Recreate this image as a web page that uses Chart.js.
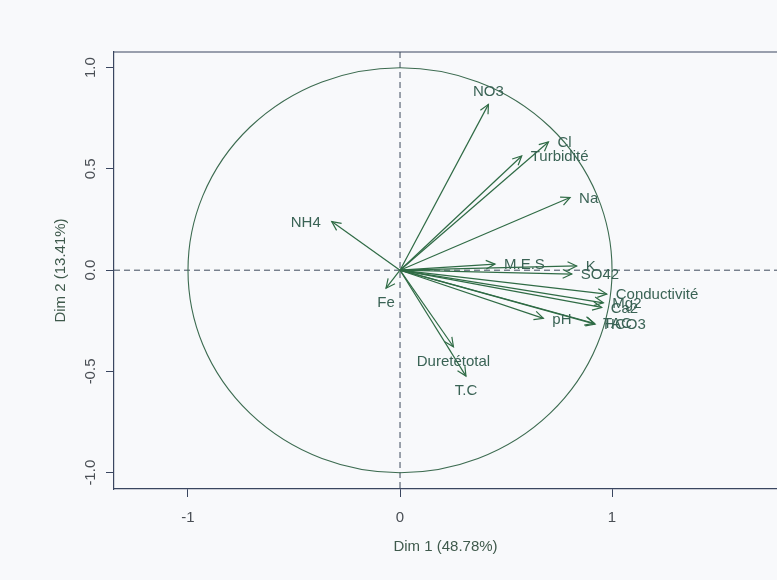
<!DOCTYPE html>
<html>
<head>
<meta charset="utf-8">
<script src="https://cdn.jsdelivr.net/npm/chart.js@4/dist/chart.umd.min.js"></script>
<style>
  html, body { margin: 0; padding: 0; background: #f8f9fb; }
  #wrap { width: 777px; height: 580px; }
</style>
</head>
<body>
<div id="wrap"><canvas id="c" width="777" height="580"></canvas></div>
<script>
// Variables factor map: correlation of each variable with Dim 1 and Dim 2
const variables = ['NO3', 'Cl', 'Turbidité', 'Na', 'NH4', 'M.E.S', 'K', 'SO42',
  'Conductivité', 'Mg2', 'Ca2', 'pH', 'HCO3', 'TAC', 'Fe', 'Duretétotal', 'T.C'];
const dim1 = [0.417, 0.700, 0.574, 0.802, -0.322, 0.448, 0.833, 0.810,
  0.975, 0.959, 0.951, 0.676, 0.920, 0.915, -0.066, 0.252, 0.311];
const dim2 = [0.819, 0.633, 0.564, 0.359, 0.240, 0.030, 0.021, -0.019,
  -0.118, -0.161, -0.184, -0.238, -0.266, -0.262, -0.089, -0.378, -0.523];
const xTicks = [-1, 0, 1];
const yTicks = [-1, -0.5, 0, 0.5, 1];
const xTitle = 'Dim 1 (48.78%)';
const yTitle = 'Dim 2 (13.41%)';

const FONT = '"Liberation Sans", Arial, Helvetica, sans-serif';
const BG = '#f8f9fb';
const BOX = '#3a4660';
const ARROW = '#2f6b45';
const LABEL = '#3a6355';
const CIRCLE = '#3c6b50';
const TICKTXT = '#4a4f55';

const factorMap = {
  id: 'factorMap',
  beforeDraw(chart) {
    const { ctx, width, height } = chart;
    ctx.save();
    ctx.fillStyle = BG;
    ctx.fillRect(0, 0, width, height);
    ctx.restore();
  },
  beforeDatasetsDraw(chart) {
    const { ctx, chartArea: a, scales: { x, y } } = chart;
    const x0 = x.getPixelForValue(0), y0 = y.getPixelForValue(0);
    ctx.save();
    // upper frame line
    ctx.strokeStyle = BOX; ctx.lineWidth = 1.2;
    ctx.beginPath(); ctx.moveTo(a.left, a.top); ctx.lineTo(a.right, a.top); ctx.stroke();
    // dashed reference axes through the origin
    ctx.setLineDash([6, 4]);
    ctx.strokeStyle = '#3d4a5c'; ctx.lineWidth = 1;
    ctx.beginPath(); ctx.moveTo(a.left, y0); ctx.lineTo(a.right, y0); ctx.stroke();
    ctx.beginPath(); ctx.moveTo(x0, a.top); ctx.lineTo(x0, a.bottom); ctx.stroke();
    ctx.setLineDash([]);
    // unit correlation circle
    const rx = x.getPixelForValue(1) - x0;
    const ry = y0 - y.getPixelForValue(1);
    ctx.strokeStyle = CIRCLE; ctx.lineWidth = 1.1;
    ctx.beginPath(); ctx.ellipse(x0, y0, rx, ry, 0, 0, Math.PI * 2); ctx.stroke();
    // rotated y tick labels
    ctx.fillStyle = TICKTXT;
    ctx.font = '15px ' + FONT;
    ctx.textAlign = 'center'; ctx.textBaseline = 'middle';
    yTicks.forEach(v => {
      const py = y.getPixelForValue(v);
      ctx.save();
      ctx.translate(91, py);
      ctx.rotate(-Math.PI / 2);
      ctx.fillText(v.toFixed(1), 0, 0);
      ctx.restore();
    });
    ctx.restore();
  },
  afterDatasetsDraw(chart) {
    const { ctx, scales: { x, y } } = chart;
    const x0 = x.getPixelForValue(0), y0 = y.getPixelForValue(0);
    const pts = chart.getDatasetMeta(0).data;
    ctx.save();
    ctx.lineWidth = 1.2;
    ctx.strokeStyle = ARROW;
    pts.forEach(p => {
      const px = p.x, py = p.y;
      ctx.beginPath(); ctx.moveTo(x0, y0); ctx.lineTo(px, py); ctx.stroke();
      const ang = Math.atan2(py - y0, px - x0);
      const hl = 10, ha = Math.PI / 7;
      ctx.beginPath();
      ctx.moveTo(px - hl * Math.cos(ang - ha), py - hl * Math.sin(ang - ha));
      ctx.lineTo(px, py);
      ctx.lineTo(px - hl * Math.cos(ang + ha), py - hl * Math.sin(ang + ha));
      ctx.stroke();
    });
    // labels placed beside the arrow tip on its dominant side
    ctx.fillStyle = LABEL;
    ctx.font = '15px ' + FONT;
    ctx.textBaseline = 'middle';
    pts.forEach((p, i) => {
      const dx = p.x - x0, dy = y0 - p.y;
      let tx = p.x, ty = p.y;
      if (Math.abs(dx) >= Math.abs(dy)) {
        ctx.textAlign = dx >= 0 ? 'left' : 'right';
        tx += dx >= 0 ? 9 : -11;
        ty += 1;
      } else {
        ctx.textAlign = 'center';
        ty += dy >= 0 ? -12 : 15;
      }
      ctx.fillText(variables[i], tx, ty);
    });
    ctx.restore();
  }
};

new Chart(document.getElementById('c'), {
  type: 'scatter',
  data: {
    datasets: [{
      data: variables.map((v, i) => ({ x: dim1[i], y: dim2[i] })),
      pointRadius: 0,
      showLine: false
    }]
  },
  options: {
    responsive: false,
    animation: false,
    events: [],
    layout: { padding: { top: 52, right: 0, left: 0, bottom: 0 } },
    plugins: { legend: { display: false }, tooltip: { enabled: false } },
    scales: {
      x: {
        type: 'linear', min: -1.349, max: 1.778,
        afterBuildTicks: s => { s.ticks = xTicks.map(v => ({ value: v })); },
        afterFit: s => { s.height = 91; },
        grid: { drawOnChartArea: false, drawTicks: true, tickLength: 8, color: BOX, lineWidth: 1 },
        border: { display: true, color: BOX, width: 1.2 },
        ticks: { font: { size: 15, family: FONT }, color: TICKTXT, padding: 12, maxRotation: 0,
          callback: v => String(v) },
        title: { display: true, text: xTitle, font: { size: 15, family: FONT }, color: '#3f5a4c',
          padding: { top: 0, bottom: 24 } }
      },
      y: {
        type: 'linear', min: -1.0805, max: 1.0775,
        afterBuildTicks: s => { s.ticks = yTicks.map(v => ({ value: v })); },
        afterFit: s => { s.width = 114; },
        grid: { drawOnChartArea: false, drawTicks: true, tickLength: 8, color: BOX, lineWidth: 1 },
        border: { display: true, color: BOX, width: 1.2 },
        ticks: { display: false },
        title: { display: true, text: yTitle, font: { size: 15, family: FONT }, color: '#3f5a4c',
          padding: { top: 52, bottom: 0 } }
      }
    }
  },
  plugins: [factorMap]
});
</script>
</body>
</html>
